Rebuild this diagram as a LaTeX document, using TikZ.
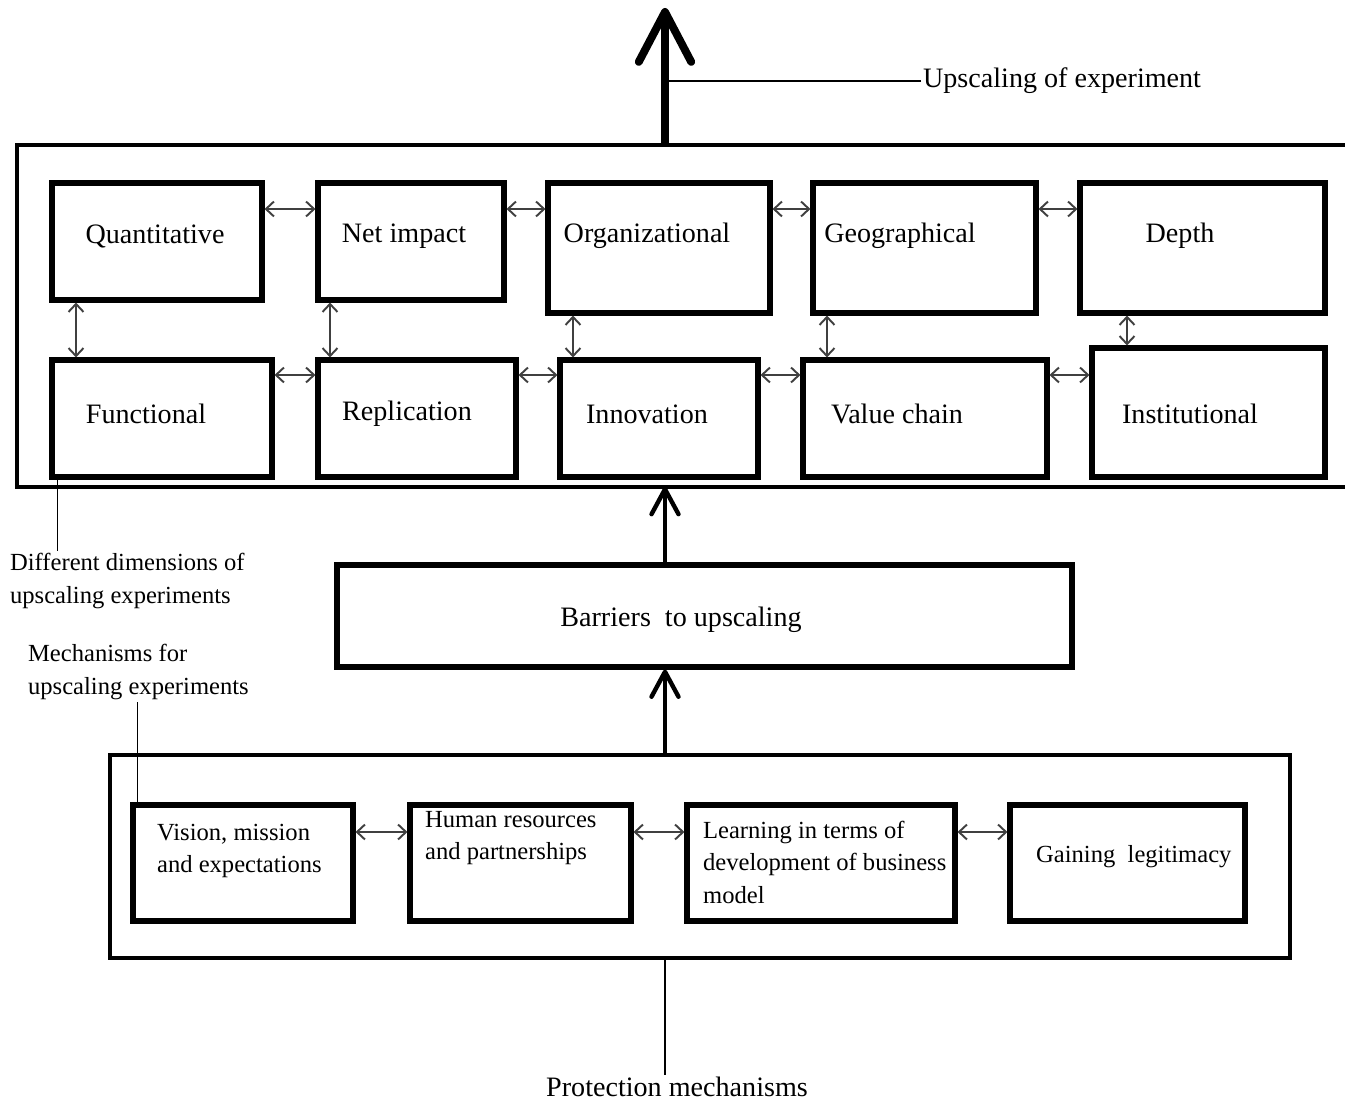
\documentclass[tikz,border=0pt]{standalone}
\usepackage{fontspec}
\setmainfont{Liberation Serif}
\usetikzlibrary{arrows.meta, positioning, fit}
\tikzstyle{frame}    = [draw, line width=2.3pt, inner sep=0pt]
\tikzstyle{dim}      = [draw, line width=2.9pt, inner sep=0pt]
\tikzstyle{txt}      = [inner sep=1pt, font=\fontsize{16}{19}\selectfont]
\tikzstyle{note}     = [inner sep=1pt, align=left, font=\fontsize{14}{18.5}\selectfont]
\tikzstyle{link}     = [draw=black!75, line width=1.1pt, <->, >={Straight Barb[length=1.6mm,width=3mm]}]
\tikzstyle{lift}     = [line width=2.5pt, ->, >={Straight Barb[round,length=5mm,width=5.4mm]}]
\tikzstyle{bigarrow} = [line width=4.5pt, ->, >={Straight Barb[round,length=10mm,width=10.5mm]}]
\tikzstyle{leader}   = [line width=0.7pt]
\tikzset{every node/.style={align=center}}

\begin{document}
\begin{tikzpicture}[x=0.02cm, y=-0.02cm]
    \useasboundingbox (0,0) rectangle (1345,1101);

    % outer frame of the dimensions (runs off the right edge)
    \draw [frame] (1345,145) -| (17,487) -- (1345,487);
    \coordinate (topbox-n) at (665,145);
    \coordinate (topbox-s) at (665,487);
    \coordinate (tip)      at (665,8);

    % dimensions of upscaling
    \node (quant) [dim, fit={(52,183) (262,300)}]   {};
    \node (net)   [dim, fit={(318,183) (504,300)}]  {};
    \node (org)   [dim, fit={(548,183) (770,313)}]  {};
    \node (geo)   [dim, fit={(813,183) (1036,313)}] {};
    \node (depth) [dim, fit={(1080,183) (1325,313)}] {};
    \node (func)  [dim, fit={(52,360) (272,477)}]   {};
    \node (repl)  [dim, fit={(318,360) (516,477)}]  {};
    \node (innov) [dim, fit={(560,360) (758,477)}]  {};
    \node (value) [dim, fit={(803,360) (1047,477)}] {};
    \node (inst)  [dim, fit={(1092,348) (1325,477)}] {};

    \node (quant-l) at (155,236)  [txt] {Quantitative};
    \node (net-l)   at (404,236)  [txt] {Net impact};
    \node (org-l)   at (647,236)  [txt] {Organizational};
    \node (geo-l)   at (900,236)  [txt] {Geographical};
    \node (depth-l) at (1180,236) [txt] {Depth};
    \node (func-l)  at (146,414)  [txt] {Functional};
    \node (repl-l)  at (407,414)  [txt] {Replication};
    \node (innov-l) at (647,414)  [txt] {Innovation};
    \node (value-l) at (897,414)  [txt] {Value chain};
    \node (inst-l)  at (1190,414) [txt] {Institutional};

    \coordinate (rowA) at (0,209);
    \coordinate (rowB) at (0,375);
    \foreach \a/\b in {quant/net, net/org, org/geo, geo/depth}
        \draw [link] (\a.east |- rowA) -- (\b.west |- rowA);
    \foreach \a/\b in {func/repl, repl/innov, innov/value, value/inst}
        \draw [link] (\a.east |- rowB) -- (\b.west |- rowB);
    \foreach \a/\b/\c in {quant/func/76, net/repl/330, org/innov/573, geo/value/827, depth/inst/1127} {
        \coordinate (col) at (\c,0);
        \draw [link] (\a.south -| col) -- (\b.north -| col);
    }

    % upscaling arrow
    \draw [bigarrow] (topbox-n) -- (tip);
    \node (upexp) at (921,81) [txt, anchor=west] {Upscaling of experiment};
    \draw [leader] (upexp.west) -- (upexp.west -| topbox-n);

    % barriers
    \node (barr)   [dim, fit={(337,565) (1072,667)}] {};
    \node (barr-l) at (681,620) [txt] {Barriers\ \ to upscaling};

    % mechanisms
    \node (mech)   [frame, fit={(110,755) (1290,958)}] {};
    \node (vision) [dim, fit={(133,805) (353,921)}]  {};
    \node (human)  [dim, fit={(410,805) (631,921)}]  {};
    \node (learn)  [dim, fit={(687,805) (955,921)}]  {};
    \node (legit)  [dim, fit={(1010,805) (1245,921)}] {};

    \node (vision-l) at (155,851)  [note, anchor=west] {Vision, mission\\and expectations};
    \node (human-l)  at (423,838)  [note, anchor=west] {Human resources\\and partnerships};
    \node (learn-l)  at (701,862)  [note, anchor=west] {Learning in terms of\\development of business\\model};
    \node (legit-l)  at (1034,857) [note, anchor=west] {Gaining\ \ legitimacy};

    \coordinate (rowC) at (0,832);
    \foreach \a/\b in {vision/human, human/learn, learn/legit}
        \draw [link] (\a.east |- rowC) -- (\b.west |- rowC);

    \draw [lift] (mech.north -| topbox-s) -- (barr.south -| topbox-s);
    \draw [lift] (barr.north -| topbox-s) -- (topbox-s);

    % side labels
    \node (dimlbl)  at (8,581)  [note, anchor=west] {Different dimensions of\\upscaling experiments};
    \node (mechlbl) at (26,672) [note, anchor=west] {Mechanisms for\\upscaling experiments};
    \node (prot)    at (677,1087) [txt] {Protection mechanisms};

    \draw [leader] ([xshift=0.16cm]func.south west) -- ([xshift=0.16cm]func.south west |- dimlbl.north);
    \draw [leader] ([xshift=0.14cm]vision.north west) -- ([xshift=0.14cm]vision.north west |- mechlbl.south);
    \draw [leader] (mech.south -| topbox-s) -- (prot.north -| topbox-s);
\end{tikzpicture}
\end{document}
